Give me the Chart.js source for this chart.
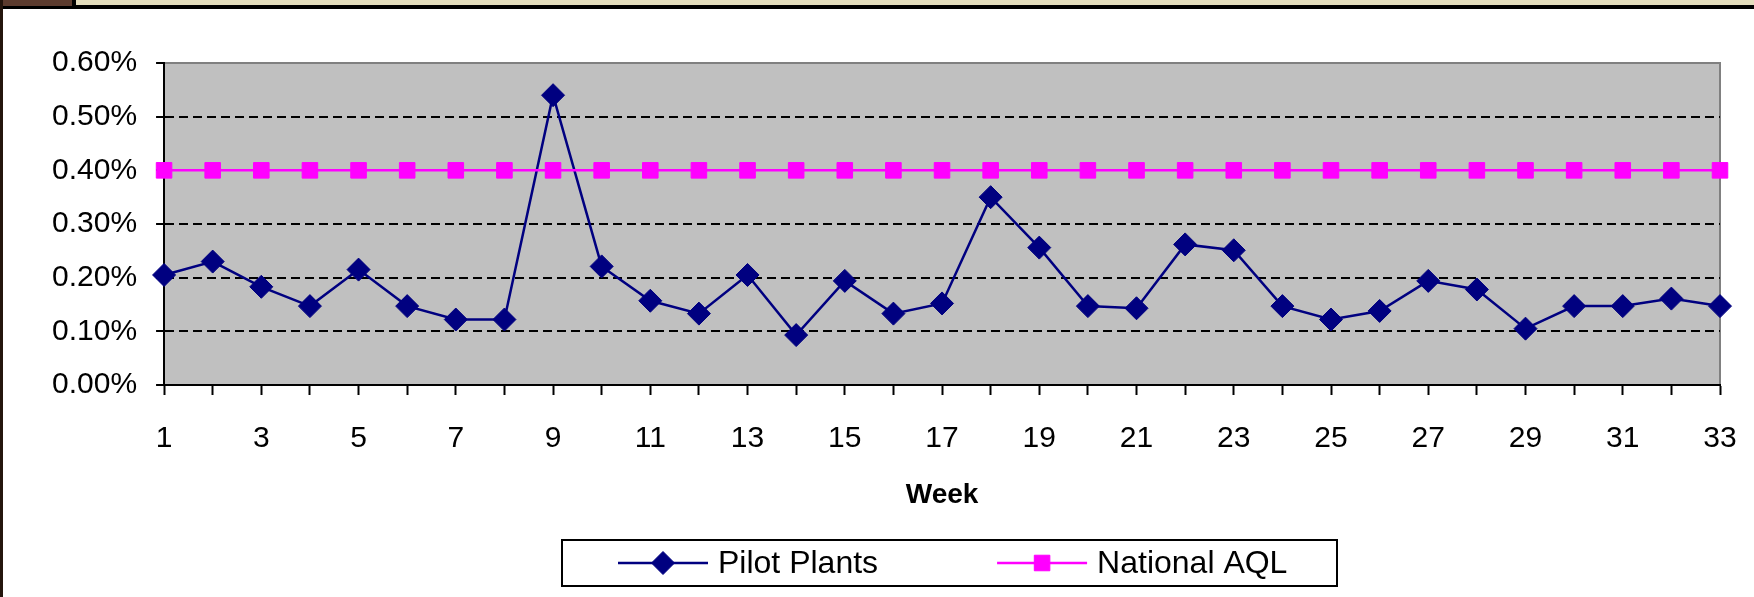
<!DOCTYPE html>
<html>
<head>
<meta charset="utf-8">
<title>Pilot Plants vs National AQL</title>
<script src="https://cdn.jsdelivr.net/npm/chart.js@4/dist/chart.umd.min.js"></script>
<style>
  html, body { margin: 0; padding: 0; background: #fff; }
  #wrap { position: relative; width: 1754px; height: 597px; overflow: hidden; }
  #wrap canvas { position: absolute; left: 0; top: 0; }
  .deco { position: absolute; z-index: 2; }
</style>
</head>
<body>
<div id="wrap">
  <canvas id="chart" width="1754" height="597"></canvas>
  <!-- cadre (bandeau du haut + bord gauche) -->
  <div class="deco" style="left:0;top:0;width:1754px;height:5px;background:#e4ddbd"></div>
  <div class="deco" style="left:0;top:5px;width:1754px;height:4px;background:#000"></div>
  <div class="deco" style="left:0;top:0;width:72px;height:6px;background:#5c3b2e;border-right:4px solid #000"></div>
  <div class="deco" style="left:0;top:0;width:3px;height:597px;background:#24150d"></div>
</div>
<script>
// Données (valeurs en %)
const weeks = ["1","2","3","4","5","6","7","8","9","10","11","12","13","14","15","16","17",
               "18","19","20","21","22","23","24","25","26","27","28","29","30","31","32","33"];
const pilotPlants = [0.205, 0.230, 0.183, 0.147, 0.215, 0.147, 0.122, 0.122, 0.540, 0.221, 0.157,
                     0.133, 0.205, 0.093, 0.194, 0.133, 0.152, 0.350, 0.256, 0.147, 0.143, 0.262,
                     0.251, 0.147, 0.122, 0.138, 0.194, 0.178, 0.105, 0.147, 0.147, 0.161, 0.147];
const nationalAQL = [0.40, 0.40, 0.40, 0.40, 0.40, 0.40, 0.40, 0.40, 0.40, 0.40, 0.40,
                     0.40, 0.40, 0.40, 0.40, 0.40, 0.40, 0.40, 0.40, 0.40, 0.40, 0.40,
                     0.40, 0.40, 0.40, 0.40, 0.40, 0.40, 0.40, 0.40, 0.40, 0.40, 0.40];
const yTicks = [0, 0.1, 0.2, 0.3, 0.4, 0.5, 0.6];

const police = '"Liberation Sans", Arial, sans-serif';
Chart.defaults.font.family = police;
Chart.defaults.color = '#000';

// fond gris de la zone de tracé + bord gris haut/droite
const fondGraphique = {
  id: 'fondGraphique',
  beforeDraw(chart) {
    const { ctx, chartArea: a } = chart;
    ctx.save();
    ctx.fillStyle = '#C0C0C0';
    ctx.fillRect(a.left, a.top, a.width, a.height);
    ctx.strokeStyle = '#808080';
    ctx.lineWidth = 2;
    ctx.beginPath();
    ctx.moveTo(a.left, a.top);
    ctx.lineTo(a.right, a.top);
    ctx.lineTo(a.right, a.bottom);
    ctx.stroke();
    ctx.restore();
  }
};

// légende encadrée (style Excel)
const legendeEncadree = {
  id: 'legendeEncadree',
  afterDraw(chart) {
    const ctx = chart.ctx;
    const box = { x: 562, y: 540, w: 775, h: 46 };
    const yc = box.y + box.h / 2;
    ctx.save();
    ctx.fillStyle = '#fff';
    ctx.fillRect(box.x, box.y, box.w, box.h);
    ctx.lineWidth = 2;
    ctx.strokeStyle = '#000';
    ctx.strokeRect(box.x, box.y, box.w, box.h);
    ctx.font = '32px ' + police;
    ctx.textBaseline = 'middle';
    ctx.textAlign = 'left';
    let x = box.x + 56;
    chart.data.datasets.forEach(ds => {
      ctx.strokeStyle = ds.borderColor;
      ctx.lineWidth = ds.borderWidth;
      ctx.beginPath();
      ctx.moveTo(x, yc);
      ctx.lineTo(x + 90, yc);
      ctx.stroke();
      ctx.fillStyle = ds.pointBackgroundColor;
      ctx.strokeStyle = ds.pointBorderColor;
      ctx.lineWidth = 1;
      Chart.helpers.drawPoint(ctx, { pointStyle: ds.pointStyle, radius: ds.pointRadius, borderWidth: 1, rotation: 0 }, x + 45, yc);
      ctx.fillStyle = '#000';
      ctx.fillText(ds.label, x + 100, yc + 1);
      x += 100 + ctx.measureText(ds.label).width + 119;
    });
    ctx.restore();
  }
};

const ctx = document.getElementById('chart').getContext('2d');
new Chart(ctx, {
  type: 'line',
  data: {
    labels: weeks,
    datasets: [{
      label: 'Pilot Plants',
      data: pilotPlants,
      borderColor: '#000080',
      backgroundColor: '#000080',
      borderWidth: 2.5,
      pointStyle: 'rectRot',
      pointRadius: 11.5,
      pointHoverRadius: 11.5,
      pointBackgroundColor: '#000080',
      pointBorderColor: '#000080',
      pointBorderWidth: 1,
      tension: 0,
      clip: false,
      order: 1
    }, {
      label: 'National AQL',
      data: nationalAQL,
      borderColor: '#FF00FF',
      backgroundColor: '#FF00FF',
      borderWidth: 2.5,
      pointStyle: 'rect',
      pointRadius: 11,
      pointHoverRadius: 11,
      pointBackgroundColor: '#FF00FF',
      pointBorderColor: '#FF00FF',
      pointBorderWidth: 1,
      tension: 0,
      clip: false,
      order: 0
    }]
  },
  options: {
    responsive: false,
    animation: false,
    events: [],
    layout: { padding: { left: 33, right: 34, top: 63, bottom: 85.4 } },
    plugins: {
      legend: { display: false },
      tooltip: { enabled: false }
    },
    scales: {
      x: {
        offset: false,
        // le dernier libellé "33" déborde juste un peu, pas besoin de marge en plus
        afterFit: s => { s.paddingRight = 0; },
        ticks: {
          autoSkip: false,
          maxRotation: 0,
          minRotation: 0,
          padding: 26,
          color: '#000',
          font: { size: 30 },
          callback: (v, i) => (i % 2 === 0 ? weeks[i] : '')
        },
        grid: { drawOnChartArea: false, drawTicks: true, tickLength: 10, tickColor: '#000', tickWidth: 2 },
        border: { display: true, color: '#000', width: 2 },
        title: {
          display: true,
          text: 'Week',
          color: '#000',
          font: { size: 28, weight: 'bold' },
          padding: { top: -5, bottom: 0 }
        }
      },
      y: {
        min: yTicks[0],
        max: yTicks[yTicks.length - 1],
        afterBuildTicks: axis => { axis.ticks = yTicks.map(v => ({ value: v })); },
        ticks: {
          padding: 19,
          color: '#000',
          font: { size: 30 },
          callback: v => v.toFixed(2) + '%'
        },
        grid: {
          color: c => (c.tick && c.tick.value > 0.001 && c.tick.value < 0.599) ? '#000' : 'rgba(0,0,0,0)',
          lineWidth: 2,
          tickLength: 8,
          tickColor: '#000',
          tickWidth: 2
        },
        border: { display: true, color: '#000', width: 2, dash: [9, 5] }
      }
    }
  },
  plugins: [fondGraphique, legendeEncadree]
});
</script>
</body>
</html>
